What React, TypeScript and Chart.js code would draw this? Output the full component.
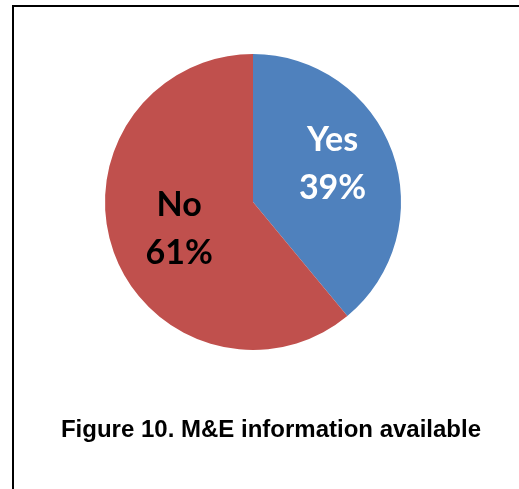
import React, { useEffect, useRef } from "react";
import { Chart, registerables } from "chart.js";

Chart.register(...registerables);

const categories = ["Yes", "No"];
const values = [39, 61];
const sliceColors = ["#4F81BD", "#C0504D"];
const labelColors = ["#FFFFFF", "#000000"];
const caption = "Figure 10. M&E information available";

const labelPlugin = {
  id: "sliceLabels",
  afterDatasetsDraw(chart: any, _args: any, opts: any) {
    const ctx = chart.ctx;
    const meta = chart.getDatasetMeta(0);
    const ds = chart.data.datasets[0];
    meta.data.forEach((arc: any, i: number) => {
      const p = arc.getProps(["x", "y", "startAngle", "endAngle", "outerRadius"], true);
      const mid = (p.startAngle + p.endAngle) / 2;
      const f = opts.factors[i];
      const off = opts.offsets[i];
      const cx = p.x + Math.cos(mid) * p.outerRadius * f + off[0];
      const cy = p.y + Math.sin(mid) * p.outerRadius * f + off[1];
      ctx.save();
      ctx.font = opts.font;
      ctx.fillStyle = opts.colors[i];
      ctx.textAlign = "center";
      ctx.textBaseline = "middle";
      const lines = [String(chart.data.labels[i]), `${ds.data[i]}%`];
      const lh = opts.lineHeight;
      lines.forEach((t, k) => {
        ctx.fillText(t, cx, cy + (k - (lines.length - 1) / 2) * lh);
      });
      ctx.restore();
    });
  },
};

export default function App() {
  const ref = useRef<HTMLCanvasElement | null>(null);

  useEffect(() => {
    document.body.style.margin = "0";
    document.body.style.background = "#FFFFFF";
    if (!ref.current) return;
    const chart = new Chart(ref.current, {
      type: "pie",
      data: {
        labels: categories,
        datasets: [
          {
            data: values,
            backgroundColor: sliceColors,
            borderWidth: 0,
          },
        ],
      },
      options: {
        responsive: false,
        animation: false,
        layout: { padding: { left: 105, right: 118, top: 54, bottom: 139 } },
        plugins: {
          legend: { display: false },
          tooltip: { enabled: false },
          title: { display: false },
          sliceLabels: {
            font: "bold 34px Lato, 'Open Sans', sans-serif",
            colors: labelColors,
            factors: [0.6, 0.53],
            offsets: [
              [-4, -8],
              [0, 0],
            ],
            lineHeight: 48,
          },
        } as any,
      },
      plugins: [labelPlugin],
    });
    return () => chart.destroy();
  }, []);

  return (
    <div style={{ position: "relative", width: 519, height: 489, background: "#FFFFFF", overflow: "hidden" }}>
      <canvas ref={ref} width={519} height={489} style={{ position: "absolute", left: 0, top: 0 }} />
      <div
        style={{
          position: "absolute",
          left: 12,
          top: 5,
          width: 519,
          height: 489,
          borderTop: "2px solid #000",
          borderLeft: "2px solid #000",
          boxSizing: "border-box",
          pointerEvents: "none",
        }}
      />
      <div
        style={{
          position: "absolute",
          left: 0,
          top: 417,
          width: 542,
          textAlign: "center",
          fontFamily: "'Liberation Sans', Arial, sans-serif",
          fontWeight: "bold",
          fontSize: 24,
          lineHeight: "24px",
          color: "#000",
          whiteSpace: "nowrap",
        }}
      >
        {caption}
      </div>
    </div>
  );
}
